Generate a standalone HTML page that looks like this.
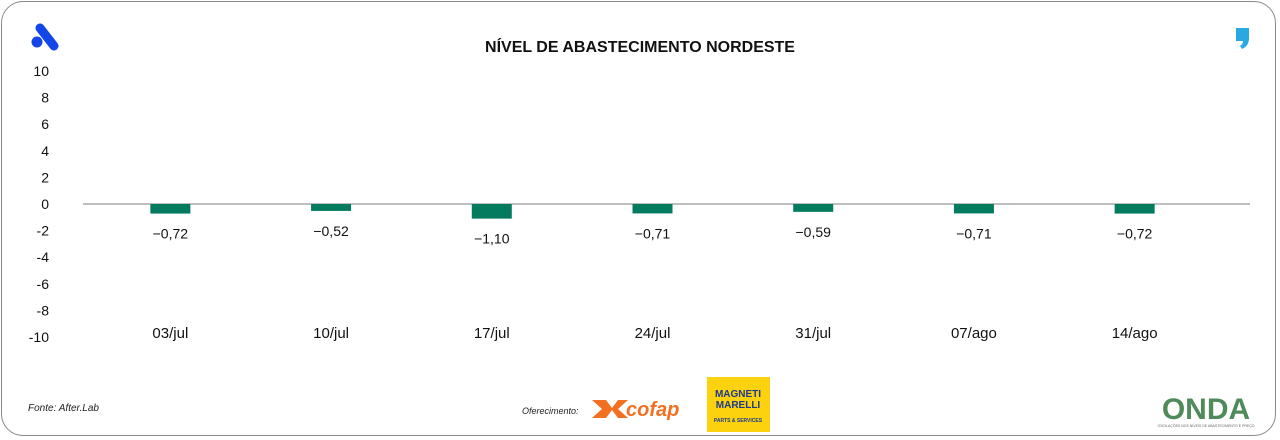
<!DOCTYPE html>
<html><head><meta charset="utf-8"><style>
body{margin:0;width:1280px;height:440px;background:#fff;font-family:"Liberation Sans",sans-serif;overflow:hidden}
#card{position:absolute;left:1px;top:1px;width:1275px;height:435px;border:1.5px solid #8a8a8a;border-radius:22px;box-sizing:border-box}
</style></head><body>
<div id="card"></div>
<svg width="1280" height="440" style="position:absolute;left:0;top:0" id="svg">
<g>
<line x1="40" y1="28" x2="54" y2="46" stroke="#1246e8" stroke-width="9" stroke-linecap="round"/>
<circle cx="37" cy="42" r="5.5" fill="#1246e8"/>
</g>
<path d="M1236 28h13v10q0 8-7 11l-2-3q3-2 3-5h-7z" fill="#29a9e0"/>
<text x="640" y="52" text-anchor="middle" font-size="16" font-weight="bold" fill="#111">NÍVEL DE ABASTECIMENTO NORDESTE</text>
<g id="yaxis"></g>
<g id="bars"></g>
<text x="28" y="411" font-size="10" font-style="italic" fill="#222">Fonte: After.Lab</text>
<text x="522" y="414" font-size="9" font-style="italic" fill="#222">Oferecimento:</text>
<g>
<path d="M592 400h14l6 8 6-8h10l-10 9 10 9h-10l-6-8-6 8h-14l10-9z" fill="#f37021"/>
<text x="626" y="416" font-size="20" font-weight="bold" font-style="italic" fill="#f37021">cofap</text>
</g>
<g>
<rect x="707" y="377" width="63" height="55" fill="#fcd20f"/>
<text x="738" y="397" text-anchor="middle" font-size="10" font-weight="bold" fill="#1b3a8c">MAGNETI</text>
<text x="738" y="408" text-anchor="middle" font-size="10" font-weight="bold" fill="#1b3a8c">MARELLI</text>
<text x="738" y="422" text-anchor="middle" font-size="5" font-weight="bold" fill="#1b3a8c">PARTS &amp; SERVICES</text>
</g>
<g>
<text x="1206" y="419" text-anchor="middle" font-size="30" font-weight="bold" fill="#4f8a5a">ONDA</text>
<text x="1206" y="427" text-anchor="middle" font-size="3.5" fill="#666">OSCILAÇÕES NOS NÍVEIS DE ABASTECIMENTO E PREÇO</text>
</g>
</svg>
<script>
const categories=["03/jul","10/jul","17/jul","24/jul","31/jul","07/ago","14/ago"];
const values=[-0.72,-0.52,-1.10,-0.71,-0.59,-0.71,-0.72];
const valueLabels=["-0,72","-0,52","-1,10","-0,71","-0,59","-0,71","-0,72"];
const yTicks=[10,8,6,4,2,0,-2,-4,-6,-8,-10];
const NS="http://www.w3.org/2000/svg";
const y=v=>204-v*13.3;
const band=(1215-90)/categories.length;
const x=i=>90+band*(i+0.5);
const ya=document.getElementById('yaxis'),bg=document.getElementById('bars');
function mk(t,a,p){const e=document.createElementNS(NS,t);for(const k in a)e.setAttribute(k,a[k]);p.appendChild(e);return e;}
yTicks.forEach(v=>{const t=mk('text',{x:49,y:y(v)+5,'text-anchor':'end','font-size':14,fill:'#111'},ya);


t.textContent=String(v).replace('-','-');});
const zl=mk('line',{x1:83,x2:1250,y1:y(0),y2:y(0),stroke:'#999','stroke-width':1.2},bg);


categories.forEach((c,i)=>{
const v=values[i];
const r=mk('rect',{x:x(i)-20,y:Math.min(y(0),y(v)),width:40,height:Math.abs(y(v)-y(0)),fill:'#047a5f'},bg);


const l=mk('text',{x:x(i),y:y(v)+25,'text-anchor':'middle','font-size':14,fill:'#111'},bg);


l.textContent=valueLabels[i].replace('-','−');
const d=mk('text',{x:x(i),y:338,'text-anchor':'middle','font-size':15,fill:'#111'},bg);


d.textContent=c;
});
</script>
</body></html>
